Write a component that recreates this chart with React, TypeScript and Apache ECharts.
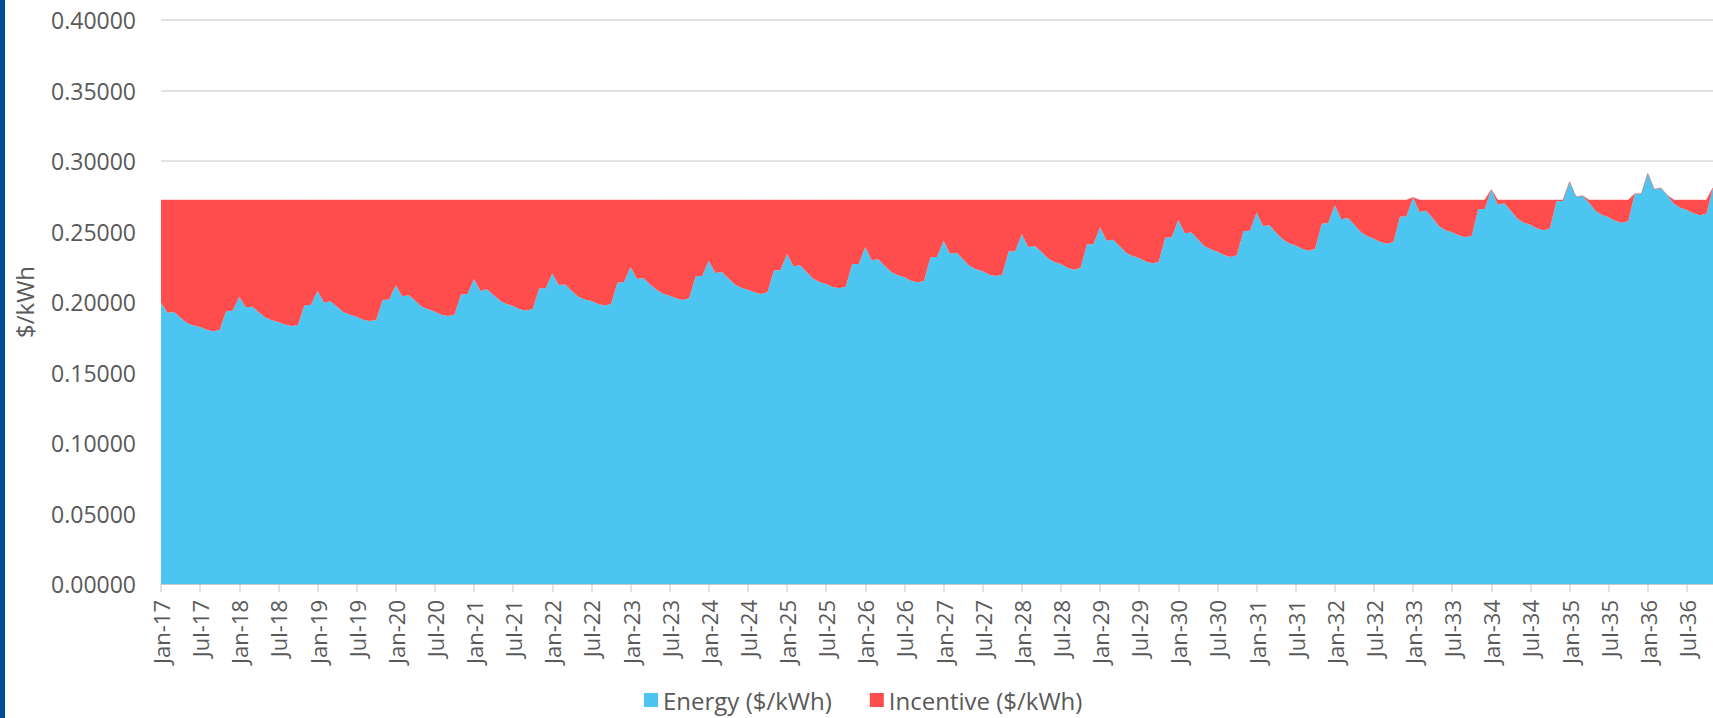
import React, { useEffect, useRef } from "react";
import * as echarts from "echarts";

// ---- categories ----
const MONTHS = ["Jan", "Feb", "Mar", "Apr", "May", "Jun", "Jul", "Aug", "Sep", "Oct", "Nov", "Dec"];
const YEARS = ["17", "18", "19", "20", "21", "22", "23", "24", "25", "26", "27", "28", "29", "30", "31", "32", "33", "34", "35", "36"];

// ---- Energy ($/kWh), monthly ----
const energy2017 = [0.1995, 0.1924, 0.1929, 0.1888, 0.1851, 0.1833, 0.1822, 0.1803, 0.1793, 0.1801, 0.1936, 0.1938];
const energy2018 = [0.2038, 0.1962, 0.1967, 0.1928, 0.189, 0.1871, 0.1859, 0.1841, 0.1829, 0.1837, 0.1977, 0.1979];
const energy2019 = [0.2079, 0.1997, 0.2005, 0.1966, 0.1927, 0.1909, 0.1896, 0.1875, 0.1865, 0.1873, 0.2014, 0.2018];
const energy2020 = [0.2118, 0.2041, 0.2047, 0.2009, 0.1967, 0.1948, 0.1931, 0.191, 0.1901, 0.191, 0.2054, 0.2057];
const energy2021 = [0.2163, 0.2078, 0.209, 0.205, 0.2009, 0.1986, 0.1972, 0.1949, 0.1939, 0.195, 0.2097, 0.2097];
const energy2022 = [0.2203, 0.2121, 0.2125, 0.2078, 0.2038, 0.2017, 0.2007, 0.1988, 0.1976, 0.1986, 0.2137, 0.2142];
const energy2023 = [0.2248, 0.2163, 0.217, 0.2125, 0.2087, 0.2059, 0.2045, 0.2026, 0.2014, 0.2026, 0.2182, 0.2184];
const energy2024 = [0.2293, 0.2206, 0.2213, 0.2168, 0.2125, 0.2101, 0.2087, 0.2069, 0.2057, 0.2069, 0.2225, 0.2226];
const energy2025 = [0.234, 0.2253, 0.226, 0.2213, 0.2165, 0.2142, 0.2128, 0.2106, 0.2097, 0.2109, 0.227, 0.227];
const energy2026 = [0.239, 0.2296, 0.2303, 0.2255, 0.2213, 0.2189, 0.2175, 0.2151, 0.214, 0.2149, 0.2317, 0.2319];
const energy2027 = [0.2435, 0.2343, 0.235, 0.2303, 0.2255, 0.2232, 0.2218, 0.2194, 0.2184, 0.2194, 0.236, 0.236];
const energy2028 = [0.248, 0.239, 0.2397, 0.2357, 0.231, 0.2284, 0.227, 0.2243, 0.2229, 0.2241, 0.2409, 0.2409];
const energy2029 = [0.253, 0.2437, 0.2442, 0.2397, 0.235, 0.2326, 0.2312, 0.2288, 0.2274, 0.2284, 0.2456, 0.2459];
const energy2030 = [0.2582, 0.2487, 0.2494, 0.2445, 0.2397, 0.2374, 0.2357, 0.2333, 0.2319, 0.2331, 0.2504, 0.2506];
const energy2031 = [0.2634, 0.2539, 0.2544, 0.2492, 0.2445, 0.2416, 0.24, 0.2378, 0.2364, 0.2378, 0.2555, 0.256];
const energy2032 = [0.2686, 0.2586, 0.2596, 0.2548, 0.2496, 0.2466, 0.2449, 0.2426, 0.2414, 0.2426, 0.2605, 0.2608];
const energy2033 = [0.2742, 0.2638, 0.2648, 0.2596, 0.2537, 0.2508, 0.2494, 0.2473, 0.2459, 0.247, 0.2657, 0.266];
const energy2034 = [0.2797, 0.269, 0.27, 0.2648, 0.2591, 0.2562, 0.2548, 0.2521, 0.2508, 0.2522, 0.2714, 0.2716];
const energy2035 = [0.2853, 0.2747, 0.2754, 0.2704, 0.2645, 0.2617, 0.2601, 0.2577, 0.2562, 0.2572, 0.2768, 0.2768];
const energy2036 = [0.2913, 0.2799, 0.2809, 0.2757, 0.2697, 0.2669, 0.2652, 0.2629, 0.2615, 0.2626, 0.2811];

const ENERGY_BY_YEAR = [
  energy2017, energy2018, energy2019, energy2020, energy2021, energy2022, energy2023,
  energy2024, energy2025, energy2026, energy2027, energy2028, energy2029, energy2030,
  energy2031, energy2032, energy2033, energy2034, energy2035, energy2036,
];

// Energy + Incentive is flat at this level; incentive is what tops energy up to it.
const TOTAL_CAP = 0.2723;

// y axis ticks
const Y_MIN = 0;
const Y_MAX = 0.4;
const Y_STEP = 0.05;

const categories: string[] = [];
ENERGY_BY_YEAR.forEach((arr, yi) => arr.forEach((_, mi) => categories.push(`${MONTHS[mi]}-${YEARS[yi]}`)));
const energy: number[] = ENERGY_BY_YEAR.flat();
const incentive: number[] = energy.map((e) => Math.max(0, +(TOTAL_CAP - e).toFixed(4)));

const FONT = "'Open Sans', sans-serif";
const TEXT = "#595959";
const BLUE = "#4CC6F1";
const RED = "#FF4D4D";

export default function App() {
  const ref = useRef<HTMLDivElement>(null);
  useEffect(() => {
    if (!ref.current) return;
    const chart = echarts.init(ref.current, null, { renderer: "svg" });
    chart.setOption({
      animation: false,
      backgroundColor: "#ffffff",
      grid: { left: 161, right: 0, top: 20, bottom: 134 },
      legend: {
        left: 644,
        top: 687,
        padding: 0,
        icon: "rect",
        itemWidth: 14,
        itemHeight: 14,
        itemGap: 38,
        textStyle: { fontFamily: FONT, fontSize: 24, color: TEXT, lineHeight: 26 },
        data: ["Energy ($/kWh)", "Incentive ($/kWh)"],
      },
      graphic: [
        { type: "rect", left: 0, top: 0, shape: { x: 0, y: 0, width: 5, height: 718 }, style: { fill: "#004B93" } },
      ],
      xAxis: {
        type: "category",
        data: categories,
        boundaryGap: false,
        axisLine: { lineStyle: { color: "#d9d9d9", width: 1.5 } },
        axisTick: { interval: 5, length: 8, lineStyle: { color: "#d9d9d9", width: 1.5 } },
        axisLabel: { interval: 5, rotate: 90, margin: 16, fontFamily: FONT, fontSize: 22, color: TEXT },
        splitLine: { show: false },
      },
      yAxis: {
        type: "value",
        min: Y_MIN,
        max: Y_MAX,
        interval: Y_STEP,
        z: 3,
        name: "$/kWh",
        nameLocation: "middle",
        nameGap: 125,
        nameTextStyle: { fontFamily: FONT, fontSize: 24, color: TEXT },
        axisLine: { show: false },
        axisTick: { show: false },
        axisLabel: {
          margin: 25,
          fontFamily: FONT,
          fontSize: 23,
          color: TEXT,
          formatter: (v: number) => v.toFixed(5),
        },
        splitLine: { lineStyle: { color: "rgba(0,0,0,0.15)", width: 1.5 } },
      },
      series: [
        {
          name: "Energy ($/kWh)",
          type: "line",
          stack: "total",
          data: energy,
          symbol: "none",
          color: BLUE,
          lineStyle: { width: 0 },
          areaStyle: { color: BLUE, opacity: 1 },
        },
        {
          name: "Incentive ($/kWh)",
          type: "line",
          stack: "total",
          data: incentive,
          symbol: "none",
          color: RED,
          lineStyle: { width: 1, color: RED, opacity: 0.5 },
          areaStyle: { color: RED, opacity: 1 },
        },
      ],
    });
    return () => chart.dispose();
  }, []);
  return (
    <div
      ref={ref}
      style={{ position: "fixed", left: 0, top: 0, width: 1713, height: 718, background: "#fff" }}
    />
  );
}
